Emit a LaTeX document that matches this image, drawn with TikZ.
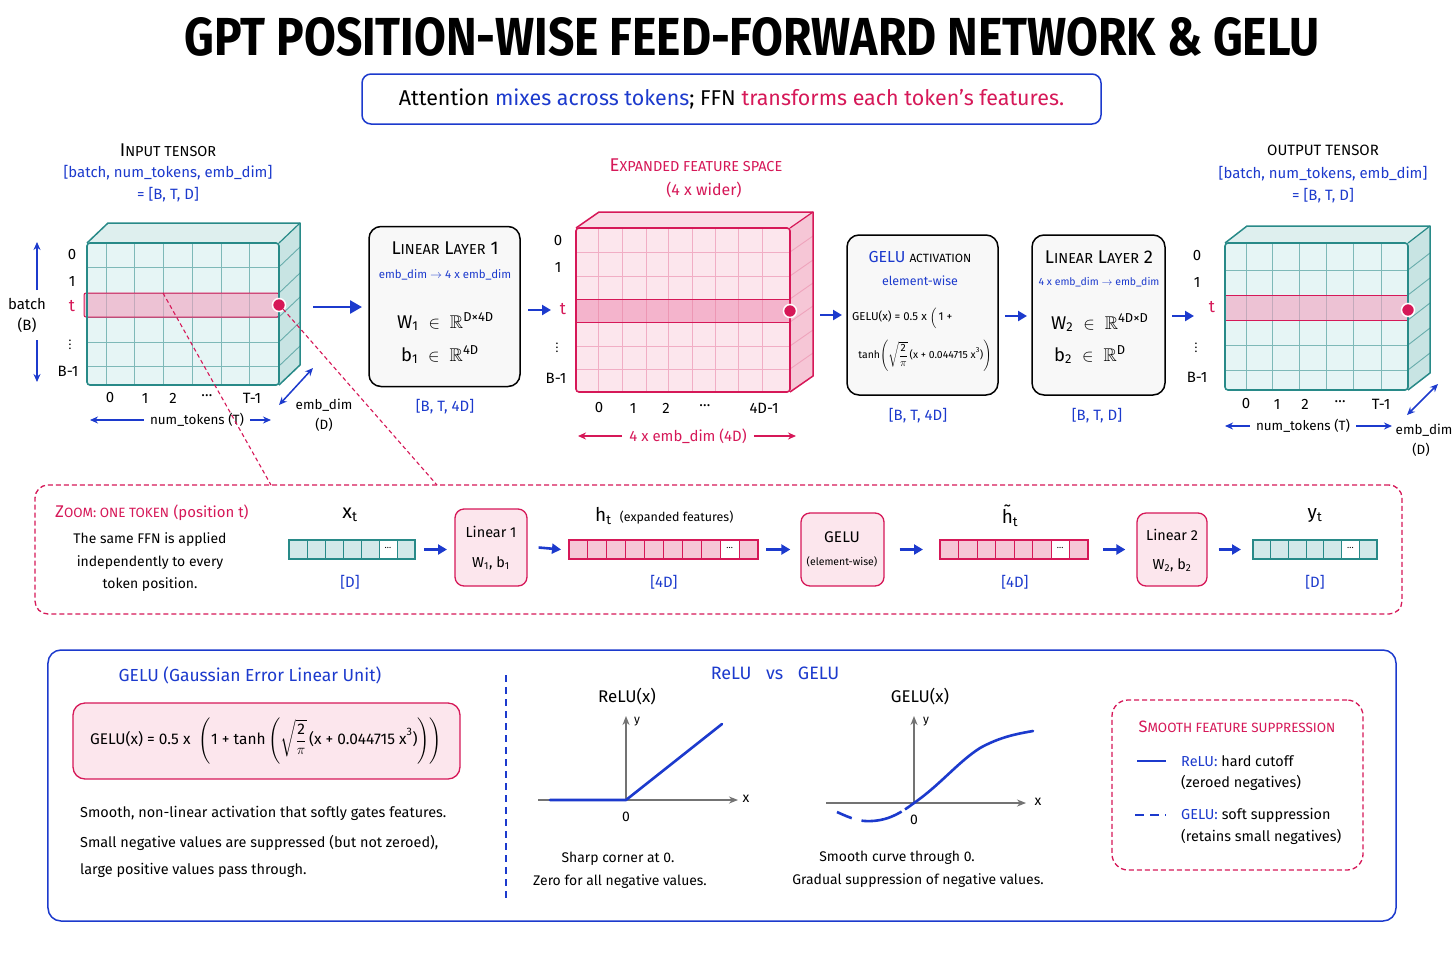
\documentclass[tikz,border=0pt]{standalone}
\usepackage{amsmath,amssymb}
\usepackage{fontspec}
\setmainfont{Fira Sans}
\usetikzlibrary{arrows.meta}
\definecolor{cblue}{RGB}{28,58,205}
\definecolor{cred}{RGB}{214,24,88}
\definecolor{tealb}{RGB}{40,138,136}
\definecolor{tealf}{RGB}{230,245,245}
\definecolor{teals}{RGB}{200,228,227}
\definecolor{pinkf}{RGB}{252,230,237}
\definecolor{pinks}{RGB}{246,198,214}
\definecolor{pinkh}{RGB}{242,160,190}
\definecolor{grayf}{RGB}{248,248,248}
\definecolor{axisg}{RGB}{115,115,115}
\newcommand\fsz[1]{\fontsize{#1}{#1}\selectfont}
\newcommand\SCa[1]{{\fontsize{14.5}{14.5}\selectfont #1}}
\newcommand\SCb[1]{{\fontsize{12}{12}\selectfont #1}}
\newcommand\SCc[1]{{\fontsize{13.5}{13.5}\selectfont #1}}
% vector of cells: x0, ytop, cell width, n filled, fill, border, name
\newcommand\vecrow[7]{%
  \foreach \i in {1,...,#4} {\draw[draw=#6, fill=#5, line width=0.9bp] ({#1+(\i-1)*#3},#2) rectangle ++(#3,19);}
  \draw[draw=#6, fill=white, line width=0.9bp] ({#1+#4*#3},#2) rectangle ++(#3,19);
  \node[font=\fsz{9}] at ({#1+#4*#3+#3/2},{#2+8}) {\ldots};
  \draw[draw=#6, fill=#5, line width=0.9bp] ({#1+(#4+1)*#3},#2) rectangle ++(#3,19);
  \draw[draw=#6, line width=1.4bp] (#1,#2) rectangle ({#1+(#4+2)*#3},{#2+19});
  \coordinate (#7W) at (#1,{#2+9.5});
  \coordinate (#7E) at ({#1+(#4+2)*#3},{#2+9.5});
}
\begin{document}
\begin{tikzpicture}[x=1bp,y=-1bp,
  txt/.style={inner sep=0pt, font=\fsz{15}},
  btxt/.style={inner sep=0pt, font=\fsz{15}, text=cblue},
  vd/.style={inner sep=0pt, font=\fsz{12}},
  barrow/.style={-{Triangle[length=9bp,width=10bp]}, draw=cblue, fill=cblue, line width=2.6bp},
  thinarrow/.style={-{Stealth[length=8bp,width=7bp]}, line width=1.5bp},
  lbox/.style={draw=black, fill=grayf, rounded corners=12bp, line width=1.5bp},
  pbox/.style={draw=cred, fill=pinkf, rounded corners=9bp, line width=1.3bp},
  reddash/.style={draw=cred, line width=1.1bp, dash pattern=on 4bp off 3bp},
  axisline/.style={draw=axisg, line width=1.5bp, -{Stealth[length=9bp,width=7bp]}},
  curve/.style={draw=cblue, line width=2.6bp, line cap=round}
]
\useasboundingbox (0,0) rectangle (1456,971);
\fill[white] (0,0) rectangle (1456,971);

% ---------------- title ----------------
\node[inner sep=0pt] (title) at (752,37) {\resizebox{1135bp}{38bp}{\bfseries GPT POSITION-WISE FEED-FORWARD NETWORK \& GELU}};
\node[draw=cblue, line width=1.5bp, rounded corners=9bp, minimum width=739bp, minimum height=50bp, font=\fsz{21.5}] (sub) at (731.5,99)
  {Attention {\color{cblue}mixes across tokens}; FFN {\color{cred}transforms each token’s features.}};

% ---------------- input tensor ----------------
\node[txt, font=\fsz{18.5}] (intitle) at (168,150) {I\SCa{NPUT TENSOR}};
\node[btxt] (inshape1) at (168,173) {[batch, num\_tokens, emb\_dim]};
\node[btxt] (inshape2) at (168,195) {= [B, T, D]};
\fill[teals!60!white] (87,243) -- (108,223) -- (300,223) -- (279,243) -- cycle;
\fill[teals] (279,243) -- (300,223) -- (300,365) -- (279,385) -- cycle;
\fill[tealf] (87,243) rectangle (279,385);
\foreach \x in {106,134,163,192,221,249} \draw[tealb!60, line width=0.9bp] (\x,243) -- (\x,385);
\foreach \y in {267,293,317,342,366} {\draw[tealb!60, line width=0.9bp] (87,\y) -- (279,\y); \draw[tealb!70, line width=0.9bp] (279,\y) -- (300,\y-20);}
\fill[pinkh, opacity=0.6, rounded corners=2bp] (84,293) rectangle (279,317);
\draw[cred, line width=1bp, rounded corners=2bp] (84,293) rectangle (279,317);
\draw[tealb, line width=1.5bp, line join=round] (87,243) -- (108,223) -- (300,223) -- (300,365) -- (279,385);
\draw[tealb, line width=1.2bp] (279,243) -- (300,223);
\draw[tealb, line width=1.6bp, rounded corners=3bp] (87,243) rectangle (279,385);
\filldraw[fill=cred, draw=white, line width=1.5bp] (279,305) circle (6.5bp);
\coordinate (indot) at (283,309);
\coordinate (inband) at (163,293);
\node[txt] (in0) at (72,255) {0};
\node[txt] (in1) at (72,281) {1};
\node[txt, text=cred, font=\fsz{17}] (int) at (72,306) {t};
\node[vd] (invd) at (70,342) {$\vdots$};
\node[txt] (inB) at (68,371) {B-1};
\node[txt] (inc0) at (110,398) {0};
\node[txt] (inc1) at (145,398) {1};
\node[txt] (inc2) at (173,398) {2};
\node[txt] (incd) at (207,396) {\ldots};
\node[txt] (incT) at (252,398) {T-1};
\node[txt, font=\fsz{13.5}] (innt) at (197,420) {num\_tokens (T)};
\draw[thinarrow, cblue] (innt.west) ++(-6,0) -- (90,420);
\draw[thinarrow, cblue] (innt.east) ++(6,0) -- (271,420);
\node[txt] (batch) at (27,304) {batch};
\node[txt] (batchB) at (27,325) {(B)};
\draw[thinarrow, cblue] (37,290) -- (37,242);
\draw[thinarrow, cblue] (37,340) -- (37,382);
\coordinate (ined1) at (279,405); \coordinate (ined2) at (313,368);
\draw[{Stealth[length=8bp,width=7bp]}-{Stealth[length=8bp,width=7bp]}, cblue, line width=1.5bp] (ined1) -- (ined2);
\node[txt, font=\fsz{13.5}] (inemb) at (324,405) {emb\_dim};
\node[txt, font=\fsz{13.5}] (inD) at (324,425) {(D)};

% ---------------- linear layer 1 ----------------
\coordinate (a1s) at (313,307); \coordinate (a1e) at (362,307);
\draw[barrow, -{Triangle[length=12bp,width=13bp]}] (a1s) -- (a1e);
\node[lbox, minimum width=151bp, minimum height=160bp] (lin1) at (444.5,306.5) {};
\node[txt, font=\fsz{18.5}] (lin1t) at (445,248) {L\SCa{INEAR} L\SCa{AYER} 1};
\node[btxt, font=\fsz{11.5}] (lin1s) at (445,275) {emb\_dim $\rightarrow$ 4 x emb\_dim};
\node[txt, font=\fsz{18.5}, anchor=west] (lin1W) at (397,322) {W\textsubscript{1}\; $\in$\; $\mathbb{R}$\textsuperscript{D×4D}};
\node[txt, font=\fsz{18.5}, anchor=west] (lin1b) at (401,355) {b\textsubscript{1}\; $\in$\; $\mathbb{R}$\textsuperscript{4D}};
\node[btxt] (lin1sh) at (445,407) {[B, T, 4D]};

% ---------------- expanded cube ----------------
\coordinate (a2s) at (528,310); \coordinate (a2e) at (551,310);
\draw[barrow] (a2s) -- (a2e);
\node[txt, font=\fsz{18.5}, text=cred] (extitle) at (696,165) {E\SCa{XPANDED FEATURE SPACE}};
\node[txt, text=cred, font=\fsz{16}] (exsub) at (704,190) {(4 x wider)};
\fill[pinkf!70!pinks] (576,228) -- (599,212) -- (813,212) -- (790,228) -- cycle;
\fill[pinks] (790,228) -- (813,212) -- (813,376) -- (790,392) -- cycle;
\fill[pinkf] (576,228) rectangle (790,392);
\foreach \x in {598,622,646,668,692,715,738,762} \draw[cred!35, line width=0.9bp] (\x,228) -- (\x,392);
\foreach \y in {252,276,299,322,346,369} {\draw[cred!35, line width=0.9bp] (576,\y) -- (790,\y); \draw[cred!40, line width=0.9bp] (790,\y) -- (813,\y-16);}
\fill[pinkh, opacity=0.7] (576,299) rectangle (790,322);
\foreach \x in {598,622,646,668,692,715,738,762} \draw[cred!45, line width=0.8bp] (\x,299) -- (\x,322);
\draw[cred, line width=1bp] (576,299) rectangle (790,322);
\draw[cred, line width=1.5bp, line join=round] (576,228) -- (599,212) -- (813,212) -- (813,376) -- (790,392);
\draw[cred, line width=1.2bp] (790,228) -- (813,212);
\draw[cred, line width=1.6bp, rounded corners=3bp] (576,228) rectangle (790,392);
\filldraw[fill=cred, draw=white, line width=1.5bp] (790,311) circle (6.5bp);
\node[txt] (ex0) at (558,241) {0};
\node[txt] (ex1) at (558,267) {1};
\node[txt, text=cred, font=\fsz{17}] (ext) at (563,309) {t};
\node[vd] (exvd) at (557,345) {$\vdots$};
\node[txt] (exB) at (556,378) {B-1};
\node[txt] (exc0) at (599,408) {0};
\node[txt] (exc1) at (633,408) {1};
\node[txt] (exc2) at (666,408) {2};
\node[txt] (excd) at (705,406) {\ldots};
\node[txt] (exc4) at (764,408) {4D-1};
\node[txt, text=cred] (exax) at (688,436) {4 x emb\_dim (4D)};
\draw[thinarrow, cred] (exax.west) ++(-7,0) -- (578,436);
\draw[thinarrow, cred] (exax.east) ++(7,0) -- (796,436);

% ---------------- GELU box ----------------
\coordinate (a3s) at (820,315); \coordinate (a3e) at (842,315);
\draw[barrow] (a3s) -- (a3e);
\node[lbox, minimum width=151bp, minimum height=160bp] (gbox) at (922.5,315) {};
\node[txt, font=\fsz{16}] (gboxt) at (920,257) {{\color{cblue}GELU} \SCb{ACTIVATION}};
\node[btxt, font=\fsz{12.5}] (gboxs) at (920,281) {element-wise};
\node[txt, font=\fsz{11.5}, anchor=west] (gboxf1) at (852,318) {GELU(x) = 0.5 x $\displaystyle\Bigl($\,1 +};
\node[txt, font=\fsz{10.5}] (gboxf2) at (925,356) {tanh$\displaystyle\left(\sqrt{\frac{\text{2}}{\pi}}\,\text{(x + 0.044715 x}^{\text{3}}\text{)}\right)$};
\node[btxt] (gsh) at (918,416) {[B, T, 4D]};

% ---------------- linear layer 2 ----------------
\coordinate (a4s) at (1005,316); \coordinate (a4e) at (1027,316);
\draw[barrow] (a4s) -- (a4e);
\node[lbox, minimum width=133bp, minimum height=160bp] (lin2) at (1098.5,315) {};
\node[txt, font=\fsz{18.5}] (lin2t) at (1099,257) {L\SCa{INEAR} L\SCa{AYER} 2};
\node[btxt, font=\fsz{10.5}] (lin2s) at (1099,282) {4 x emb\_dim $\rightarrow$ emb\_dim};
\node[txt, font=\fsz{18.5}, anchor=west] (lin2W) at (1051,323) {W\textsubscript{2}\; $\in$\; $\mathbb{R}$\textsuperscript{4D×D}};
\node[txt, font=\fsz{18.5}, anchor=west] (lin2b) at (1054,355) {b\textsubscript{2}\; $\in$\; $\mathbb{R}$\textsuperscript{D}};
\node[btxt] (lin2sh) at (1097,416) {[B, T, D]};

% ---------------- output tensor ----------------
\coordinate (a5s) at (1172,316); \coordinate (a5e) at (1194,316);
\draw[barrow] (a5s) -- (a5e);
\node[txt, font=\fsz{15}] (outtitle) at (1323,150) {OUTPUT TENSOR};
\node[btxt] (outshape1) at (1323,174) {[batch, num\_tokens, emb\_dim]};
\node[btxt] (outshape2) at (1323,196) {= [B, T, D]};
\fill[teals!60!white] (1225,243) -- (1247,226) -- (1430,226) -- (1408,243) -- cycle;
\fill[teals] (1408,243) -- (1430,226) -- (1430,373) -- (1408,390) -- cycle;
\fill[tealf] (1225,243) rectangle (1408,390);
\foreach \x in {1246,1272,1299,1326,1353,1381} \draw[tealb!60, line width=0.9bp] (\x,243) -- (\x,390);
\foreach \y in {270,295,320,345,370} {\draw[tealb!60, line width=0.9bp] (1225,\y) -- (1408,\y); \draw[tealb!70, line width=0.9bp] (1408,\y) -- (1430,\y-17);}
\fill[pinkh, opacity=0.6] (1225,295) rectangle (1408,320);
\draw[cred, line width=1bp] (1225,295) rectangle (1408,320);
\draw[tealb, line width=1.5bp, line join=round] (1225,243) -- (1247,226) -- (1430,226) -- (1430,373) -- (1408,390);
\draw[tealb, line width=1.2bp] (1408,243) -- (1430,226);
\draw[tealb, line width=1.6bp, rounded corners=3bp] (1225,243) rectangle (1408,390);
\filldraw[fill=cred, draw=white, line width=1.5bp] (1408,310) circle (6.5bp);
\node[txt] (out0) at (1197,256) {0};
\node[txt] (out1) at (1197,282) {1};
\node[txt, text=cred, font=\fsz{17}] (outt) at (1212,307) {t};
\node[vd] (outvd) at (1196,345) {$\vdots$};
\node[txt] (outB) at (1197,377) {B-1};
\node[txt] (outc0) at (1246,404) {0};
\node[txt] (outc1) at (1277,404) {1};
\node[txt] (outc2) at (1305,404) {2};
\node[txt] (outcd) at (1340,402) {\ldots};
\node[txt] (outcT) at (1381,404) {T-1};
\node[txt, font=\fsz{13.5}] (outnt) at (1303,426) {num\_tokens (T)};
\draw[thinarrow, cblue] (outnt.west) ++(-6,0) -- (1225,426);
\draw[thinarrow, cblue] (outnt.east) ++(6,0) -- (1392,426);
\coordinate (outed1) at (1407,415); \coordinate (outed2) at (1438,384);
\draw[{Stealth[length=8bp,width=7bp]}-{Stealth[length=8bp,width=7bp]}, cblue, line width=1.5bp] (outed1) -- (outed2);
\node[txt, font=\fsz{13.5}] (outemb) at (1424,430) {emb\_dim};
\node[txt, font=\fsz{13.5}] (outD) at (1421,450) {(D)};

% ---------------- zoom row ----------------
\coordinate (zt1) at (271,485); \coordinate (zt2) at (437,485);
\draw[reddash] (inband) -- (zt1);
\draw[reddash] (indot) -- (zt2);
\node[draw=cred, line width=1.3bp, dash pattern=on 5bp off 3bp, rounded corners=13bp, minimum width=1367bp, minimum height=129bp] (zoombox) at (718.5,549.5) {};
\node[txt, font=\fsz{17}, text=cred, anchor=west] (ztitle) at (55,513) {Z\SCc{OOM: ONE TOKEN} {\fsz{15}(position t)}};
\node[txt, font=\fsz{14}] (zl1) at (150,540) {The same FFN is applied};
\node[txt, font=\fsz{14}] (zl2) at (150,563) {independently to every};
\node[txt, font=\fsz{14}] (zl3) at (150,585) {token position.};
\node[txt, font=\fsz{20}] (xtl) at (350,515) {x\textsubscript{t}};
\vecrow{289}{540}{18}{5}{teals!80!white}{tealb}{xv}
\node[btxt] (xts) at (350,582) {[D]};
\draw[barrow] ([xshift=9bp]xvE) -- ++(23,0);
\node[pbox, minimum width=72bp, minimum height=77bp] (l1z) at (491,547.5) {};
\node[txt, font=\fsz{14.5}] (l1z1) at (491,532) {Linear 1};
\node[txt, font=\fsz{14.5}] (l1z2) at (491,563) {W\textsubscript{1}, b\textsubscript{1}};
\node[txt, font=\fsz{19}, anchor=west] (htl) at (595,516) {h\textsubscript{t} {\fsz{12.5} (expanded features)}};
\vecrow{569}{540}{18.9}{8}{pinks}{cred}{hv}
\draw[barrow] ([xshift=11bp]l1z.east) -- ([xshift=-8bp]hvW);
\node[btxt] (hts) at (664,582) {[4D]};
\node[pbox, minimum width=83bp, minimum height=73bp] (gz) at (842.5,549.5) {};
\node[txt, font=\fsz{15.5}] (gz1) at (842,537) {GELU};
\node[txt, font=\fsz{10.5}] (gz2) at (842,562) {(element-wise)};
\draw[barrow] ([xshift=8bp]hvE) -- ([xshift=-10bp]gz.west);
\node[txt, font=\fsz{19}] (htt) at (1010,516) {\~{h}\textsubscript{t}};
\vecrow{940}{540}{18.5}{6}{pinks}{cred}{gv}
\node[btxt] (gts) at (1015,582) {[4D]};
\draw[barrow] ([xshift=15bp]gz.east) -- ([xshift=-17bp]gvW);
\node[pbox, minimum width=70bp, minimum height=73bp] (l2z) at (1172,549.5) {};
\node[txt, font=\fsz{14.5}] (l2z1) at (1172,535) {Linear 2};
\node[txt, font=\fsz{14.5}] (l2z2) at (1172,565) {W\textsubscript{2}, b\textsubscript{2}};
\draw[barrow] ([xshift=15bp]gvE) -- ([xshift=-11bp]l2z.west);
\node[txt, font=\fsz{19}] (ytl) at (1315,516) {y\textsubscript{t}};
\vecrow{1253}{540}{17.7}{5}{teals!80!white}{tealb}{yv}
\node[btxt] (yts) at (1315,582) {[D]};
\draw[barrow] ([xshift=11bp]l2z.east) -- ([xshift=-12bp]yvW);

% ---------------- bottom panel ----------------
\node[draw=cblue, line width=1.5bp, rounded corners=13bp, minimum width=1348bp, minimum height=271bp] (panel) at (722,785.5) {};
\coordinate (divt) at (506,675); \coordinate (divb) at (506,900);
\draw[cblue, line width=1.8bp, dash pattern=on 7bp off 5bp] (divt) -- (divb);
\node[btxt, font=\fsz{17.5}] (gtitle) at (250,675) {GELU (Gaussian Error Linear Unit)};
\node[pbox, rounded corners=12bp, minimum width=387bp, minimum height=76bp] (fbox) at (266.5,741) {};
\node[txt, font=\fsz{15.5}] (fform) at (266,741) {GELU(x) = 0.5 x\; $\displaystyle\left(\text{1 + tanh}\left(\sqrt{\frac{\text{2}}{\pi}}\,\text{(x + 0.044715 x}^{\text{3}}\text{)}\right)\right)$};
\node[txt, font=\fsz{14.5}, anchor=west] (p1) at (80,813) {Smooth, non-linear activation that softly gates features.};
\node[txt, font=\fsz{14.5}, anchor=west] (p2) at (80,843) {Small negative values are suppressed (but not zeroed),};
\node[txt, font=\fsz{14.5}, anchor=west] (p3) at (80,870) {large positive values pass through.};

\node[btxt, font=\fsz{18}] (rvg) at (775,673) {ReLU\;\; vs\;\; GELU};
% ReLU plot
\node[txt, font=\fsz{17}] (relut) at (627,697) {ReLU(x)};
\coordinate (ro) at (626,800);
\draw[axisline] (ro) -- (626,716);
\draw[axisline] (538,800) -- (738,800);
\node[txt, font=\fsz{12}] (ry) at (637,722) {y};
\node[txt, font=\fsz{14}] (rx) at (746,799) {x};
\node[txt, font=\fsz{14}] (r0) at (626,817) {0};
\draw[curve, line join=round] (550,800) -- (ro) -- (722,724);
\node[txt, font=\fsz{14}] (rc1) at (618,859) {Sharp corner at 0.};
\node[txt, font=\fsz{14}] (rc2) at (620,882) {Zero for all negative values.};
% GELU plot
\node[txt, font=\fsz{17}] (gelut) at (920,697) {GELU(x)};
\coordinate (go) at (914,803);
\draw[axisline] (go) -- (914,716);
\draw[axisline] (826,803) -- (1026,803);
\node[txt, font=\fsz{12}] (gy) at (926,722) {y};
\node[txt, font=\fsz{14}] (gx) at (1038,802) {x};
\node[txt, font=\fsz{14}] (g0) at (914,820) {0};
\draw[curve, line cap=butt, dash pattern=on 16bp off 10bp on 42bp off 4bp] (837,812) .. controls (850,818) and (860,822) .. (872,821) .. controls (890,820) and (902,812) .. (go);
\draw[curve] (go) .. controls (940,785) and (958,762) .. (980,748) .. controls (1000,737) and (1016,734) .. (1033,731);
\node[txt, font=\fsz{14}] (gc1) at (897,858) {Smooth curve through 0.};
\node[txt, font=\fsz{14}] (gc2) at (918,881) {Gradual suppression of negative values.};

% legend
\node[draw=cred, line width=1.3bp, dash pattern=on 5bp off 3bp, rounded corners=16bp, minimum width=251bp, minimum height=170bp] (legend) at (1237.5,785) {};
\node[txt, font=\fsz{16.5}, text=cred] (legt) at (1237,727) {S\SCc{MOOTH FEATURE SUPPRESSION}};
\coordinate (l1a) at (1137,761); \coordinate (l1b) at (1166,761);
\draw[cblue, line width=2.6bp] (l1a) -- (l1b);
\node[txt, font=\fsz{14.5}, anchor=west] (leg1) at (1181,761) {{\color{cblue}ReLU:} hard cutoff};
\node[txt, font=\fsz{14.5}, anchor=west] (leg1b) at (1181,783) {(zeroed negatives)};
\coordinate (l2a) at (1135,815); \coordinate (l2b) at (1166,815);
\draw[cblue, line width=2.6bp, dash pattern=on 9bp off 6bp] (l2a) -- (l2b);
\node[txt, font=\fsz{14.5}, anchor=west] (leg2) at (1181,815) {{\color{cblue}GELU:} soft suppression};
\node[txt, font=\fsz{14.5}, anchor=west] (leg2b) at (1181,837) {(retains small negatives)};
\end{tikzpicture}
\end{document}
